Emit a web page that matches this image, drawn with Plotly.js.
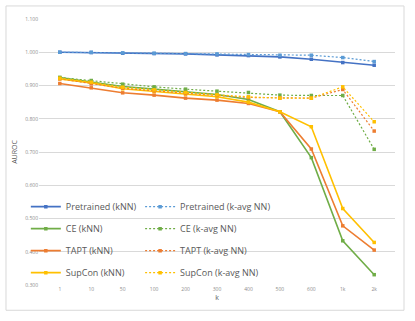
<!DOCTYPE html>
<html>
<head>
<meta charset="utf-8">
<script src="https://cdn.plot.ly/plotly-3.0.1.min.js"></script>
<style>html,body{margin:0;padding:0;background:#fff}#chart{width:415px;height:321px}</style>
</head>
<body>
<div id="chart"></div>
<script>
const kLabels = ["1", "10", "50", "100", "200", "300", "400", "500", "600", "1k", "2k"];

const pretrainedKnn  = [1.000, 0.999, 0.997, 0.996, 0.995, 0.992, 0.990, 0.986, 0.979, 0.969, 0.961];
const pretrainedKavg = [1.000, 1.000, 0.998, 0.997, 0.996, 0.995, 0.993, 0.991, 0.991, 0.984, 0.972];
const ceKnn          = [0.924, 0.910, 0.897, 0.889, 0.881, 0.873, 0.858, 0.821, 0.683, 0.433, 0.331];
const ceKavg         = [0.924, 0.915, 0.904, 0.896, 0.889, 0.883, 0.879, 0.871, 0.870, 0.870, 0.708];
const taptKnn        = [0.906, 0.893, 0.878, 0.871, 0.862, 0.856, 0.846, 0.821, 0.709, 0.478, 0.405];
const taptKavg       = [0.920, 0.905, 0.892, 0.884, 0.876, 0.870, 0.864, 0.862, 0.862, 0.888, 0.763];
const supconKnn      = [0.920, 0.908, 0.890, 0.882, 0.874, 0.866, 0.850, 0.821, 0.776, 0.530, 0.428];
const supconKavg     = [0.922, 0.910, 0.895, 0.887, 0.879, 0.872, 0.866, 0.862, 0.862, 0.896, 0.791];

const seriesNames = ["Pretrained (kNN)", "Pretrained (k-avg NN)", "CE (kNN)", "CE (k-avg NN)",
                     "TAPT (kNN)", "TAPT (k-avg NN)", "SupCon (kNN)", "SupCon (k-avg NN)"];

function mk(name, y, color, dotted, legend, group) {
  return {
    type: 'scatter', mode: 'lines+markers', name: name, x: kLabels, y: y,
    line: {color: color, width: dotted ? 1.2 : 1.6, dash: dotted ? '2px,2px' : 'solid'},
    marker: {color: color, size: 3.5, symbol: 'square'},
    legend: legend, legendgroup: group
  };
}

const data = [
  mk(seriesNames[0], pretrainedKnn, '#4472C4', false, 'legend', 'a'),
  mk(seriesNames[2], ceKnn, '#70AD47', false, 'legend', 'b'),
  mk(seriesNames[4], taptKnn, '#ED7D31', false, 'legend', 'c'),
  mk(seriesNames[6], supconKnn, '#FFC000', false, 'legend', 'd'),
  mk(seriesNames[1], pretrainedKavg, '#5B9BD5', true, 'legend2', 'e'),
  mk(seriesNames[3], ceKavg, '#70AD47', true, 'legend2', 'f'),
  mk(seriesNames[5], taptKavg, '#ED7D31', true, 'legend2', 'g'),
  mk(seriesNames[7], supconKavg, '#FFC000', true, 'legend2', 'h')
];

const legFont = {family: 'Open Sans, sans-serif', size: 9, color: '#595959'};

const layout = {
  width: 415, height: 321,
  margin: {l: 39, r: 20, t: 19, b: 36.3},
  paper_bgcolor: '#fff', plot_bgcolor: '#fff',
  showlegend: true,
  font: {family: 'Open Sans, sans-serif', color: '#7f7f7f'},
  xaxis: {
    type: 'category', showgrid: false, zeroline: false, showline: false,
    ticks: '', tickfont: {size: 5, color: '#8c8c8c'},
    title: {text: 'k', font: {size: 7, color: '#595959'}, standoff: 4}
  },
  yaxis: {
    range: [0.3, 1.1], dtick: 0.1, tick0: 0.3, tickformat: '.3f',
    showgrid: true, gridcolor: '#d9d9d9', gridwidth: 1, zeroline: false, showline: false,
    ticks: '', tickfont: {size: 5, color: '#8c8c8c'},
    title: {text: 'AUROC', font: {size: 7, color: '#595959'}, standoff: 6}
  },
  legend: {
    x: -0.037, xanchor: 'left', y: 0.349, yanchor: 'top',
    bgcolor: 'rgba(0,0,0,0)', font: legFont, tracegroupgap: 3, orientation: 'v'
  },
  legend2: {
    x: 0.284, xanchor: 'left', y: 0.349, yanchor: 'top',
    bgcolor: 'rgba(0,0,0,0)', font: legFont, tracegroupgap: 3, orientation: 'v'
  },
  shapes: [{
    type: 'rect', xref: 'paper', yref: 'paper',
    x0: -0.0927, x1: 1.0253, y0: -0.095, y1: 1.049,
    line: {color: '#d9d9d9', width: 1}, layer: 'below'
  }]
};

Plotly.newPlot('chart', data, layout, {displayModeBar: false, staticPlot: true});
</script>
</body>
</html>
